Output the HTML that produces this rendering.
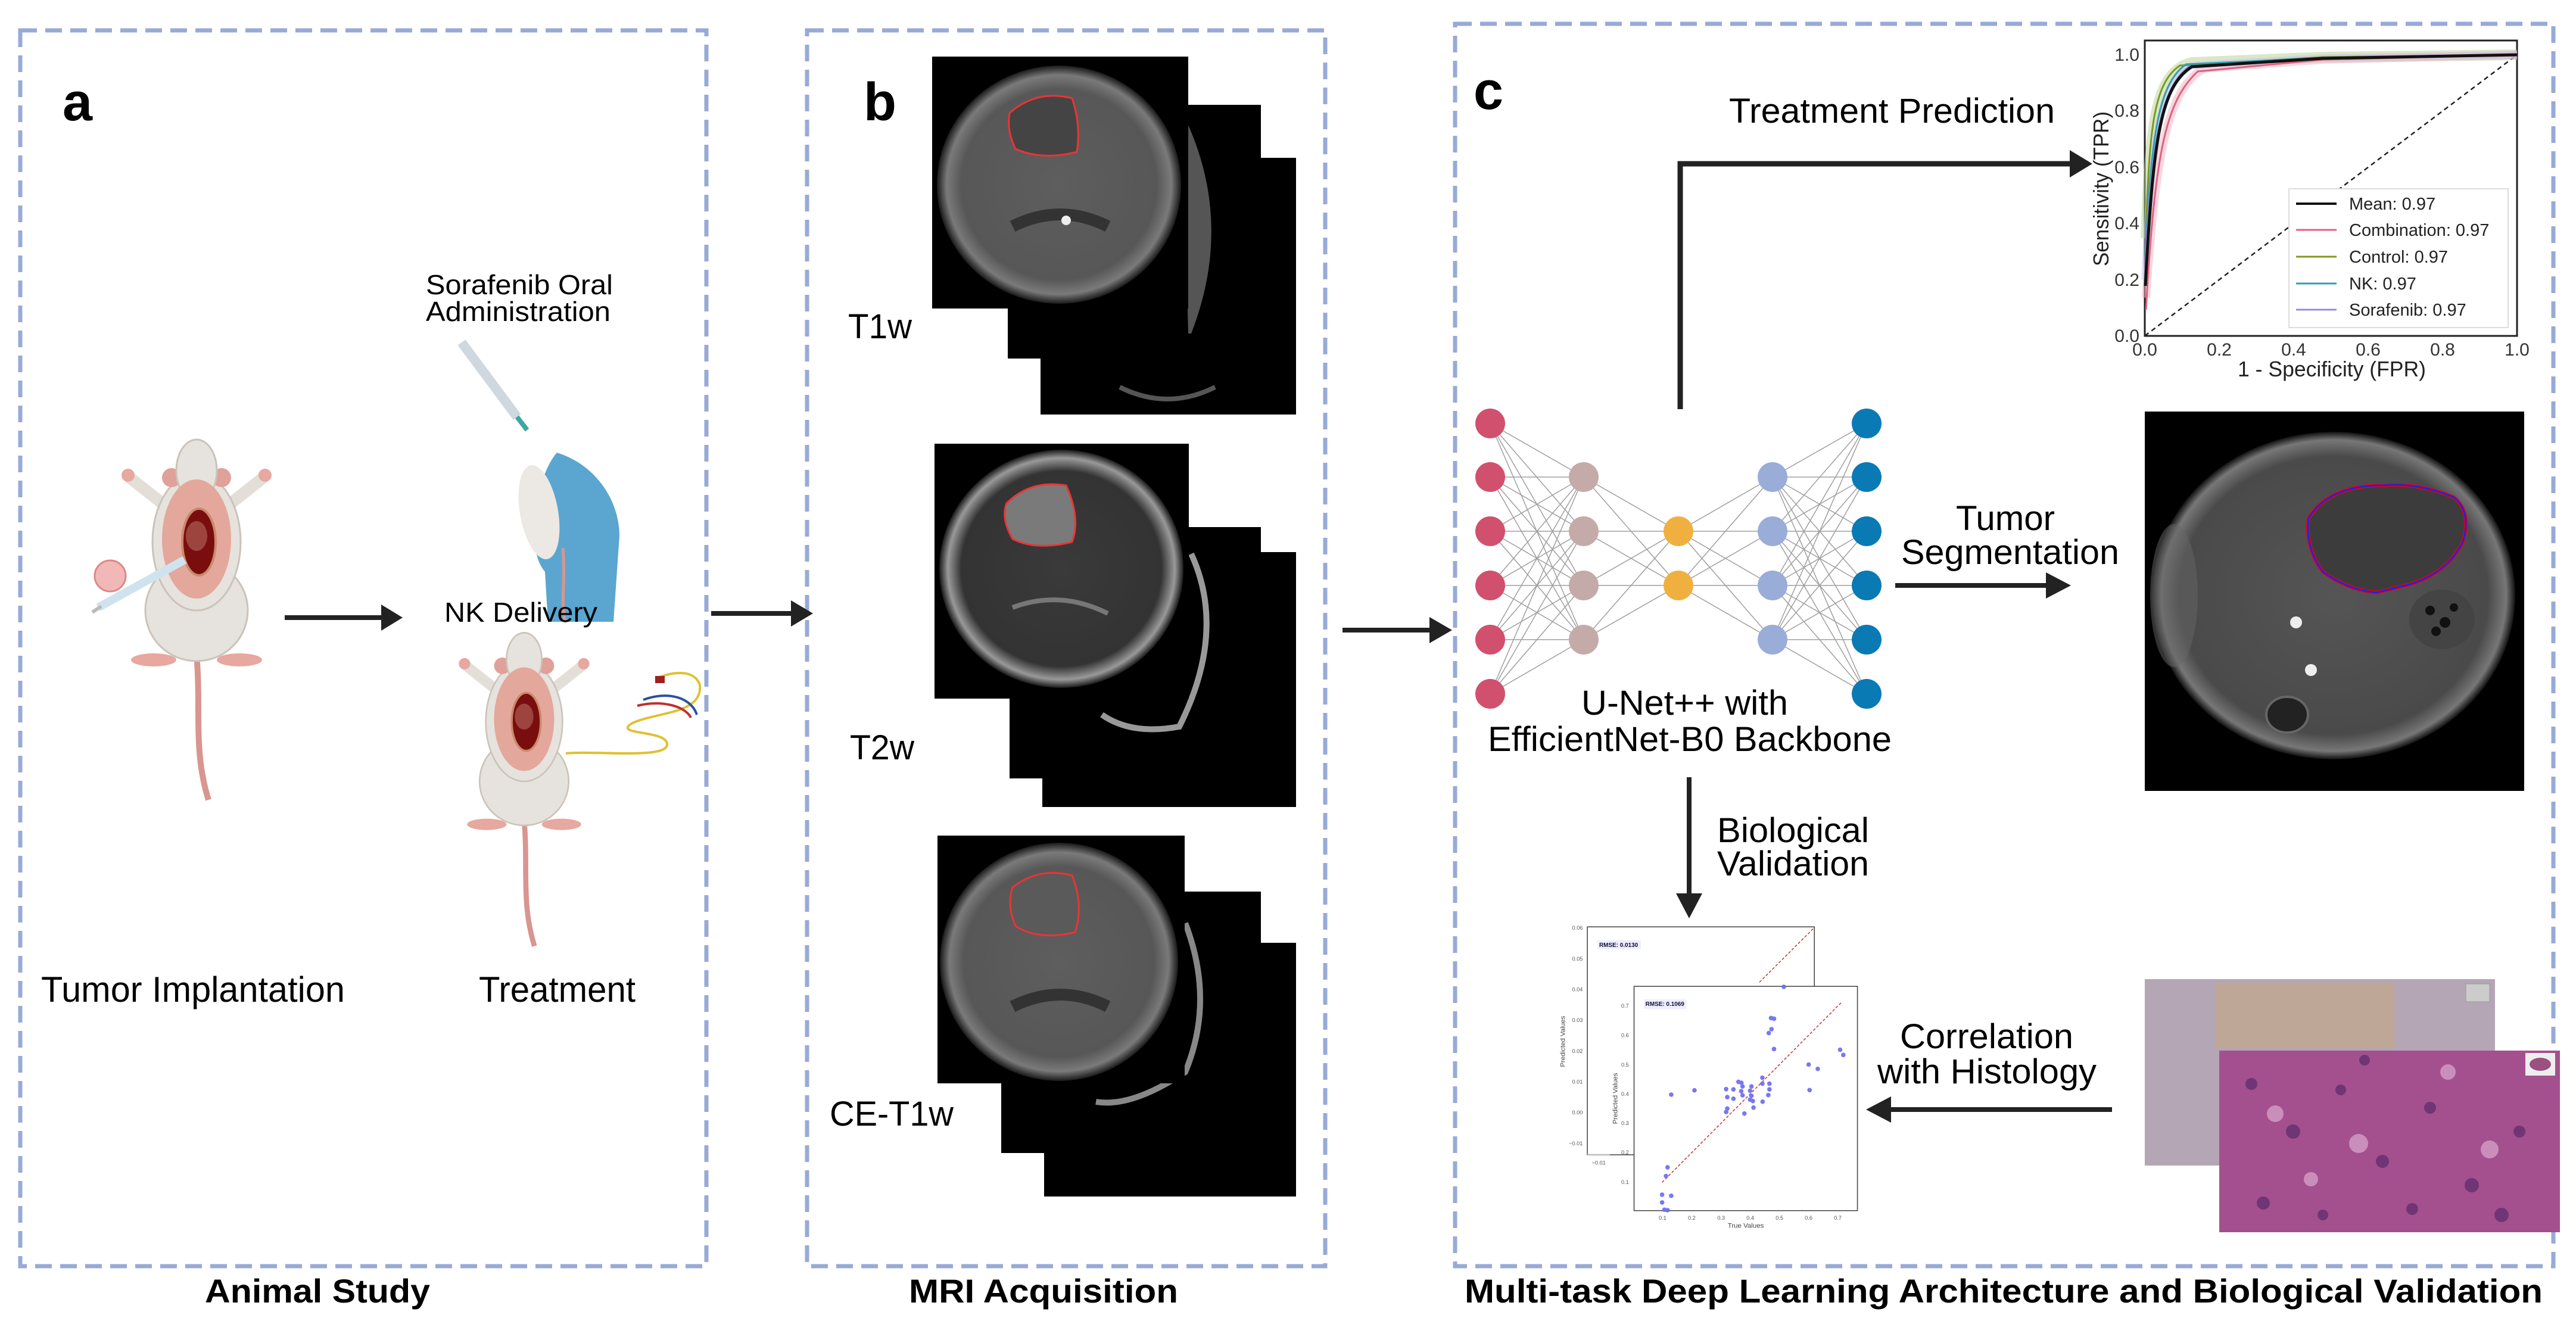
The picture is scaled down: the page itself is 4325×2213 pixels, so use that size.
<!DOCTYPE html>
<html><head><meta charset="utf-8"><style>
html,body{margin:0;padding:0;background:#fff;}
svg{display:block;}
text{font-family:"Liberation Sans",Arial,sans-serif;}
</style></head><body>
<svg width="4325" height="2213" viewBox="0 0 4325 2213" xmlns="http://www.w3.org/2000/svg">
<defs>
<radialGradient id="brain" cx="50%" cy="50%" r="50%">
<stop offset="0" stop-color="#5e5e5e"/><stop offset="0.8" stop-color="#575757"/><stop offset="0.92" stop-color="#7a7a7a"/><stop offset="1" stop-color="#1a1a1a"/>
</radialGradient>
<radialGradient id="brain2" cx="50%" cy="50%" r="50%">
<stop offset="0" stop-color="#3a3a3a"/><stop offset="0.82" stop-color="#333"/><stop offset="0.93" stop-color="#999"/><stop offset="1" stop-color="#1a1a1a"/>
</radialGradient>
<radialGradient id="seg" cx="50%" cy="50%" r="50%">
<stop offset="0" stop-color="#555"/><stop offset="0.85" stop-color="#4a4a4a"/><stop offset="0.95" stop-color="#777"/><stop offset="1" stop-color="#111"/>
</radialGradient>
<g id="mouse">
<path d="M0,360 C8,450 -6,520 20,603" stroke="#d9958f" stroke-width="10" fill="none"/>
<ellipse cx="-72" cy="368" rx="38" ry="11" fill="#e6a89f"/>
<ellipse cx="72" cy="368" rx="38" ry="11" fill="#e6a89f"/>
<line x1="-45" y1="115" x2="-112" y2="62" stroke="#e3ded8" stroke-width="20" stroke-linecap="round"/>
<line x1="45" y1="115" x2="112" y2="62" stroke="#e3ded8" stroke-width="20" stroke-linecap="round"/>
<circle cx="-115" cy="58" r="11" fill="#e6a89f"/><circle cx="115" cy="58" r="11" fill="#e6a89f"/>
<ellipse cx="0" cy="285" rx="86" ry="85" fill="#e6e2dd" stroke="#cbc3ba" stroke-width="3"/>
<ellipse cx="0" cy="170" rx="74" ry="115" fill="#e6e2dd" stroke="#cbc3ba" stroke-width="3"/>
<circle cx="-42" cy="62" r="16" fill="#dfa199"/><circle cx="42" cy="62" r="16" fill="#dfa199"/>
<ellipse cx="0" cy="50" rx="34" ry="52" fill="#e6e2dd" stroke="#cbc3ba" stroke-width="3"/>
<ellipse cx="0" cy="165" rx="58" ry="100" fill="#e3a79c"/>
<ellipse cx="4" cy="170" rx="28" ry="56" fill="#7a0e0e" stroke="#c98a6a" stroke-width="4"/>
<ellipse cx="0" cy="160" rx="18" ry="25" fill="#a5524a" opacity="0.8"/>
</g>
</defs>

<g fill="none" stroke="#98aad6" stroke-width="7" stroke-dasharray="28,14">
<rect x="34" y="51" width="1152" height="2075"/>
<rect x="1355" y="51" width="870" height="2075"/>
<rect x="2443" y="40" width="1844" height="2086"/>
</g>

<text x="105" y="202" font-size="90" font-weight="bold">a</text>
<text x="1450" y="202" font-size="90" font-weight="bold">b</text>
<text x="2474" y="183" font-size="90" font-weight="bold">c</text>

<text x="344" y="2187" font-size="56" font-weight="bold" textLength="378" lengthAdjust="spacingAndGlyphs">Animal Study</text>
<text x="1526" y="2187" font-size="56" font-weight="bold" textLength="452" lengthAdjust="spacingAndGlyphs">MRI Acquisition</text>
<text x="2459" y="2187" font-size="56" font-weight="bold" textLength="1810" lengthAdjust="spacingAndGlyphs">Multi-task Deep Learning Architecture and Biological Validation</text>

<!-- Panel a -->
<use href="#mouse" transform="translate(330,740)"/>
<use href="#mouse" transform="translate(880,1064) scale(0.87)"/>
<circle cx="185" cy="967" r="26" fill="#f2b8b8" stroke="#d88" stroke-width="3"/>
<line x1="165" y1="1020" x2="310" y2="940" stroke="#cfe3ee" stroke-width="14"/>
<line x1="155" y1="1028" x2="170" y2="1018" stroke="#bbb" stroke-width="6"/>
<text x="715" y="494" font-size="46" textLength="314" lengthAdjust="spacingAndGlyphs">Sorafenib Oral</text>
<text x="715" y="539" font-size="46" textLength="310" lengthAdjust="spacingAndGlyphs">Administration</text>
<line x1="775" y1="575" x2="868" y2="700" stroke="#cfd8de" stroke-width="16"/>
<line x1="868" y1="700" x2="885" y2="722" stroke="#3aa8a0" stroke-width="8"/>
<path d="M935,760 C1000,780 1040,840 1040,900 L1030,1044 L920,1044 L915,960 C880,920 900,800 935,760 Z" fill="#5aa6d0"/>
<ellipse cx="905" cy="860" rx="32" ry="80" fill="#ece8e4" transform="rotate(-10 905 860)"/>
<path d="M945,920 C950,980 940,1020 950,1045" stroke="#d9958f" stroke-width="5" fill="none"/>
<text x="746" y="1044" font-size="46" textLength="257" lengthAdjust="spacingAndGlyphs">NK Delivery</text>
<path d="M950,1265 C1000,1260 1120,1275 1120,1250 C1120,1225 1030,1235 1060,1215 C1100,1195 1180,1200 1175,1150 C1165,1120 1120,1130 1100,1140" stroke="#e0c030" stroke-width="4" fill="none"/>
<path d="M1080,1175 C1120,1160 1160,1170 1170,1200" stroke="#2a50a0" stroke-width="4" fill="none"/>
<path d="M1070,1185 C1110,1175 1150,1185 1160,1205" stroke="#c03030" stroke-width="4" fill="none"/>
<rect x="1100" y="1135" width="16" height="12" fill="#a02020"/>
<line x1="478" y1="1037" x2="640" y2="1037" stroke="#222" stroke-width="8"/>
<polygon points="640,1015 676,1037 640,1059" fill="#222"/>
<text x="69" y="1682" font-size="60" textLength="510" lengthAdjust="spacingAndGlyphs">Tumor Implantation</text>
<text x="804" y="1682" font-size="60" textLength="263" lengthAdjust="spacingAndGlyphs">Treatment</text>

<line x1="1194" y1="1030" x2="1330" y2="1030" stroke="#222" stroke-width="8"/>
<polygon points="1328,1008 1365,1030 1328,1052" fill="#222"/>

<!-- T1w -->
<rect x="1747" y="265" width="429" height="431" fill="#000"/>
<path d="M1880,650 Q1960,690 2040,650" stroke="#555" stroke-width="8" fill="none"/>
<rect x="1692" y="176" width="425" height="426" fill="#000"/>
<path d="M1995,210 Q2070,380 2000,560 L1995,560 Q1990,380 1995,210Z" fill="#555"/>
<rect x="1565" y="95" width="430" height="423" fill="#000"/>
<ellipse cx="1778" cy="310" rx="205" ry="200" fill="url(#brain)"/>
<path d="M1695,190 Q1740,150 1800,165 Q1815,210 1808,255 Q1750,270 1705,250 Q1690,220 1695,190Z" fill="#444" stroke="#e33" stroke-width="3"/>
<path d="M1700,380 Q1780,340 1860,380" stroke="#333" stroke-width="20" fill="none"/>
<circle cx="1790" cy="370" r="8" fill="#eee"/>
<text x="1424" y="568" font-size="58" textLength="107" lengthAdjust="spacingAndGlyphs">T1w</text>
<!-- T2w -->
<rect x="1750" y="927" width="426" height="428" fill="#000"/>
<rect x="1695" y="885" width="422" height="422" fill="#000"/>
<path d="M2000,930 Q2060,1060 1980,1220 Q1900,1235 1850,1200" stroke="#999" stroke-width="10" fill="none"/>
<rect x="1569" y="745" width="427" height="428" fill="#000"/>
<ellipse cx="1782" cy="955" rx="205" ry="200" fill="url(#brain2)"/>
<path d="M1690,845 Q1730,805 1790,815 Q1815,870 1800,910 Q1740,925 1700,905 Q1680,870 1690,845Z" fill="#7a7a7a" stroke="#e33" stroke-width="3"/>
<path d="M1700,1020 Q1780,990 1860,1030" stroke="#777" stroke-width="8" fill="none"/>
<text x="1427" y="1275" font-size="58" textLength="108" lengthAdjust="spacingAndGlyphs">T2w</text>
<!-- CE-T1w -->
<rect x="1753" y="1583" width="423" height="426" fill="#000"/>
<rect x="1681" y="1497" width="436" height="439" fill="#000"/>
<path d="M1990,1550 Q2040,1680 1990,1800 Q1900,1860 1840,1850" stroke="#888" stroke-width="10" fill="none"/>
<rect x="1574" y="1403" width="415" height="416" fill="#000"/>
<ellipse cx="1778" cy="1615" rx="200" ry="200" fill="url(#brain)"/>
<path d="M1700,1490 Q1745,1455 1800,1470 Q1820,1520 1805,1565 Q1745,1580 1705,1555 Q1690,1520 1700,1490Z" fill="#5a5a5a" stroke="#e33" stroke-width="3"/>
<path d="M1700,1690 Q1780,1650 1860,1690" stroke="#333" stroke-width="20" fill="none"/>
<text x="1393" y="1890" font-size="58" textLength="208" lengthAdjust="spacingAndGlyphs">CE-T1w</text>

<line x1="2254" y1="1058" x2="2405" y2="1058" stroke="#222" stroke-width="8"/>
<polygon points="2400,1036 2438,1058 2400,1080" fill="#222"/>

<!-- Panel c -->
<text x="2903" y="206" font-size="58" textLength="547" lengthAdjust="spacingAndGlyphs">Treatment Prediction</text>
<polyline points="2821,687 2821,275 3480,275" fill="none" stroke="#222" stroke-width="9"/>
<polygon points="3475,252 3513,275 3475,298" fill="#222"/>

<rect x="3601" y="68" width="625" height="496" fill="#fff" stroke="#222" stroke-width="3"/>
<path d="M3601,564 L4226,92" stroke="#222" stroke-width="2.5" stroke-dasharray="8,6" fill="none"/>
<path d="M3603,400 C3610,200 3620,120 3680,105 L3900,96 L4226,92" stroke="#b8d090" stroke-width="18" fill="none" opacity="0.5"/>
<path d="M3603,500 C3620,250 3640,150 3700,115 L3900,100 L4226,92" stroke="#f0b0c0" stroke-width="14" fill="none" opacity="0.5"/>
<path d="M3601,470 C3612,230 3625,140 3680,110 L3900,97 L4226,92" stroke="#c8c0f0" stroke-width="12" fill="none" opacity="0.5"/>
<path d="M3603,520 C3618,260 3635,170 3690,120 L3900,100 L4226,92" stroke="#e06080" stroke-width="3" fill="none"/>
<path d="M3603,400 C3608,220 3615,140 3660,110 L3900,96 L4226,92" stroke="#7a9a20" stroke-width="3" fill="none"/>
<path d="M3602,430 C3612,220 3625,140 3670,108 L3900,97 L4226,92" stroke="#30a0b0" stroke-width="3" fill="none"/>
<path d="M3602,450 C3612,230 3630,145 3675,112 L3900,98 L4226,92" stroke="#9a8ae0" stroke-width="3" fill="none"/>
<path d="M3602,480 C3615,230 3628,145 3680,112 L3900,98 L4226,92" stroke="#111" stroke-width="5" fill="none"/>
<g font-size="30" fill="#333" text-anchor="end">
<text x="3592" y="102">1.0</text><text x="3592" y="196">0.8</text><text x="3592" y="291">0.6</text>
<text x="3592" y="385">0.4</text><text x="3592" y="480">0.2</text><text x="3592" y="574">0.0</text>
</g>
<g font-size="30" fill="#333" text-anchor="middle">
<text x="3601" y="597">0.0</text><text x="3726" y="597">0.2</text><text x="3851" y="597">0.4</text>
<text x="3976" y="597">0.6</text><text x="4101" y="597">0.8</text><text x="4226" y="597">1.0</text>
</g>
<text x="3915" y="632" font-size="36" fill="#222" text-anchor="middle" textLength="316" lengthAdjust="spacingAndGlyphs">1 - Specificity (FPR)</text>
<text transform="translate(3540,317) rotate(-90)" font-size="36" fill="#222" text-anchor="middle" textLength="260" lengthAdjust="spacingAndGlyphs">Sensitivity (TPR)</text>
<rect x="3843" y="317" width="368" height="233" fill="#fff" stroke="#ddd" stroke-width="2"/>
<g stroke-width="4">
<line x1="3855" y1="342" x2="3923" y2="342" stroke="#111"/>
<line x1="3855" y1="386" x2="3923" y2="386" stroke="#e06080" stroke-width="3"/>
<line x1="3855" y1="431" x2="3923" y2="431" stroke="#7a9a20" stroke-width="3"/>
<line x1="3855" y1="476" x2="3923" y2="476" stroke="#30a0b0" stroke-width="3"/>
<line x1="3855" y1="520" x2="3923" y2="520" stroke="#9a8ae0" stroke-width="3"/>
</g>
<g font-size="29" fill="#222">
<text x="3944" y="352">Mean: 0.97</text>
<text x="3944" y="396">Combination: 0.97</text>
<text x="3944" y="441">Control: 0.97</text>
<text x="3944" y="486">NK: 0.97</text>
<text x="3944" y="530">Sorafenib: 0.97</text>
</g>

<g stroke="#888" stroke-width="1.5" opacity="0.8">
<path d="M2502,711 L2659,801 M2502,711 L2659,892 M2502,711 L2659,983 M2502,711 L2659,1074
M2502,801 L2659,801 M2502,801 L2659,892 M2502,801 L2659,983 M2502,801 L2659,1074
M2502,892 L2659,801 M2502,892 L2659,892 M2502,892 L2659,983 M2502,892 L2659,1074
M2502,983 L2659,801 M2502,983 L2659,892 M2502,983 L2659,983 M2502,983 L2659,1074
M2502,1074 L2659,801 M2502,1074 L2659,892 M2502,1074 L2659,983 M2502,1074 L2659,1074
M2502,1165 L2659,801 M2502,1165 L2659,892 M2502,1165 L2659,983 M2502,1165 L2659,1074
M2659,801 L2818,892 M2659,801 L2818,983 M2659,892 L2818,892 M2659,892 L2818,983
M2659,983 L2818,892 M2659,983 L2818,983 M2659,1074 L2818,892 M2659,1074 L2818,983
M2818,892 L2976,801 M2818,892 L2976,892 M2818,892 L2976,983 M2818,892 L2976,1074
M2818,983 L2976,801 M2818,983 L2976,892 M2818,983 L2976,983 M2818,983 L2976,1074
M3134,711 L2976,801 M3134,711 L2976,892 M3134,711 L2976,983 M3134,711 L2976,1074
M3134,801 L2976,801 M3134,801 L2976,892 M3134,801 L2976,983 M3134,801 L2976,1074
M3134,892 L2976,801 M3134,892 L2976,892 M3134,892 L2976,983 M3134,892 L2976,1074
M3134,983 L2976,801 M3134,983 L2976,892 M3134,983 L2976,983 M3134,983 L2976,1074
M3134,1074 L2976,801 M3134,1074 L2976,892 M3134,1074 L2976,983 M3134,1074 L2976,1074
M3134,1165 L2976,801 M3134,1165 L2976,892 M3134,1165 L2976,983 M3134,1165 L2976,1074"/>
</g>
<g fill="#d1506e">
<circle cx="2502" cy="711" r="25"/><circle cx="2502" cy="801" r="25"/><circle cx="2502" cy="892" r="25"/>
<circle cx="2502" cy="983" r="25"/><circle cx="2502" cy="1074" r="25"/><circle cx="2502" cy="1165" r="25"/>
</g>
<g fill="#c4aaa8">
<circle cx="2659" cy="801" r="25"/><circle cx="2659" cy="892" r="25"/><circle cx="2659" cy="983" r="25"/><circle cx="2659" cy="1074" r="25"/>
</g>
<g fill="#f0b040"><circle cx="2818" cy="892" r="25"/><circle cx="2818" cy="983" r="25"/></g>
<g fill="#9aadd8">
<circle cx="2976" cy="801" r="25"/><circle cx="2976" cy="892" r="25"/><circle cx="2976" cy="983" r="25"/><circle cx="2976" cy="1074" r="25"/>
</g>
<g fill="#0a7ab5">
<circle cx="3134" cy="711" r="25"/><circle cx="3134" cy="801" r="25"/><circle cx="3134" cy="892" r="25"/>
<circle cx="3134" cy="983" r="25"/><circle cx="3134" cy="1074" r="25"/><circle cx="3134" cy="1165" r="25"/>
</g>
<text x="2655" y="1200" font-size="58" textLength="347" lengthAdjust="spacingAndGlyphs">U-Net++ with</text>
<text x="2498" y="1261" font-size="58" textLength="678" lengthAdjust="spacingAndGlyphs">EfficientNet-B0 Backbone</text>

<line x1="3182" y1="983" x2="3440" y2="983" stroke="#222" stroke-width="8"/>
<polygon points="3435,961 3477,983 3435,1005" fill="#222"/>
<text x="3284" y="890" font-size="58" textLength="166" lengthAdjust="spacingAndGlyphs">Tumor</text>
<text x="3192" y="947" font-size="58" textLength="366" lengthAdjust="spacingAndGlyphs">Segmentation</text>
<rect x="3601" y="691" width="637" height="637" fill="#000"/>
<ellipse cx="3918" cy="1000" rx="305" ry="275" fill="url(#seg)"/>
<ellipse cx="3650" cy="1000" rx="40" ry="120" fill="#666" opacity="0.5"/>
<path d="M3876,870 Q3910,815 4000,815 Q4060,810 4120,835 Q4150,860 4135,910 Q4110,960 4050,980 L3990,995 Q3940,990 3900,960 Q3870,920 3876,870Z" fill="#3c3c3c" stroke="#e00" stroke-width="6"/>
<path d="M3876,870 Q3910,815 4000,815 Q4060,810 4120,835 Q4150,860 4135,910 Q4110,960 4050,980 L3990,995 Q3940,990 3900,960 Q3870,920 3876,870Z" fill="none" stroke="#22d" stroke-width="3"/>
<ellipse cx="4100" cy="1040" rx="55" ry="50" fill="#444"/>
<g fill="#111"><circle cx="4080" cy="1025" r="8"/><circle cx="4105" cy="1045" r="9"/><circle cx="4120" cy="1020" r="7"/><circle cx="4090" cy="1060" r="8"/></g>
<circle cx="3855" cy="1045" r="10" fill="#eee"/><circle cx="3880" cy="1125" r="10" fill="#eee"/>
<ellipse cx="3840" cy="1200" rx="35" ry="30" fill="#222" stroke="#666" stroke-width="4"/>

<line x1="2836" y1="1305" x2="2836" y2="1505" stroke="#222" stroke-width="8"/>
<polygon points="2814,1500 2836,1542 2858,1500" fill="#222"/>
<text x="2883" y="1414" font-size="58" textLength="255" lengthAdjust="spacingAndGlyphs">Biological</text>
<text x="2883" y="1470" font-size="58" textLength="255" lengthAdjust="spacingAndGlyphs">Validation</text>

<g transform="translate(2600,1500) scale(0.3827)">
<rect x="170" y="147" width="996" height="1000" fill="#fff" stroke="#444" stroke-width="4"/>
<line x1="170" y1="1147" x2="268" y2="1147" stroke="#bbb" stroke-width="6"/>
<line x1="925" y1="390" x2="1166" y2="150" stroke="#c33" stroke-width="4" stroke-dasharray="12,8"/>
<rect x="215" y="205" width="190" height="40" fill="#eef"/>
<text x="222" y="235" font-size="26" font-weight="bold" fill="#113">RMSE: 0.0130</text>
<g font-size="24" fill="#555" text-anchor="end">
<text x="150" y="160">0.06</text><text x="150" y="295">0.05</text><text x="150" y="430">0.04</text><text x="150" y="565">0.03</text>
<text x="150" y="700">0.02</text><text x="150" y="835">0.01</text><text x="150" y="970">0.00</text><text x="150" y="1105">−0.01</text>
</g>
<text x="220" y="1190" font-size="24" fill="#555" text-anchor="middle">−0.01</text>
<text transform="translate(72,650) rotate(-90)" font-size="30" fill="#444" text-anchor="middle">Predicted Values</text>
<rect x="375" y="408" width="980" height="984" fill="#fff" stroke="#444" stroke-width="4"/>
<line x1="498" y1="1268" x2="1288" y2="475" stroke="#c33" stroke-width="4" stroke-dasharray="12,8"/>
<rect x="418" y="465" width="187" height="42" fill="#eef"/>
<text x="425" y="494" font-size="26" font-weight="bold" fill="#113">RMSE: 0.1069</text>
<g font-size="24" fill="#555" text-anchor="end">
<text x="352" y="502">0.7</text><text x="352" y="631">0.6</text><text x="352" y="760">0.5</text><text x="352" y="888">0.4</text>
<text x="352" y="1017">0.3</text><text x="352" y="1145">0.2</text><text x="352" y="1275">0.1</text>
</g>
<g font-size="24" fill="#555" text-anchor="middle">
<text x="500" y="1432">0.1</text><text x="628" y="1432">0.2</text><text x="757" y="1432">0.3</text><text x="885" y="1432">0.4</text>
<text x="1013" y="1432">0.5</text><text x="1141" y="1432">0.6</text><text x="1269" y="1432">0.7</text>
</g>
<text x="865" y="1467" font-size="30" fill="#444" text-anchor="middle">True Values</text>
<text transform="translate(302,900) rotate(-90)" font-size="30" fill="#444" text-anchor="middle">Predicted Values</text>
<g fill="#6a6af0" opacity="0.9">
<circle cx="976" cy="547" r="10"/><circle cx="989" cy="550" r="10"/><circle cx="978" cy="596" r="10"/><circle cx="966" cy="613" r="10"/>
<circle cx="989" cy="683" r="10"/><circle cx="1279" cy="686" r="10"/><circle cx="1293" cy="709" r="10"/><circle cx="1141" cy="751" r="10"/>
<circle cx="1181" cy="770" r="10"/><circle cx="1145" cy="863" r="10"/><circle cx="938" cy="809" r="10"/><circle cx="938" cy="835" r="10"/>
<circle cx="969" cy="835" r="10"/><circle cx="969" cy="860" r="10"/><circle cx="964" cy="885" r="10"/><circle cx="939" cy="914" r="10"/>
<circle cx="833" cy="827" r="10"/><circle cx="846" cy="831" r="10"/><circle cx="851" cy="847" r="10"/><circle cx="845" cy="868" r="10"/>
<circle cx="851" cy="886" r="10"/><circle cx="890" cy="847" r="10"/><circle cx="884" cy="866" r="10"/><circle cx="890" cy="888" r="10"/>
<circle cx="884" cy="905" r="10"/><circle cx="896" cy="911" r="10"/><circle cx="899" cy="940" r="10"/><circle cx="859" cy="966" r="10"/>
<circle cx="779" cy="859" r="10"/><circle cx="811" cy="860" r="10"/><circle cx="784" cy="894" r="10"/><circle cx="811" cy="901" r="10"/>
<circle cx="784" cy="944" r="10"/><circle cx="779" cy="959" r="10"/><circle cx="640" cy="864" r="10"/><circle cx="538" cy="883" r="10"/>
<circle cx="522" cy="1202" r="10"/><circle cx="515" cy="1240" r="10"/><circle cx="498" cy="1322" r="10"/><circle cx="538" cy="1327" r="10"/>
<circle cx="498" cy="1356" r="10"/><circle cx="508" cy="1388" r="10"/><circle cx="522" cy="1390" r="10"/><circle cx="1032" cy="410" r="10"/>
</g>
</g>

<line x1="3546" y1="1863" x2="3170" y2="1863" stroke="#222" stroke-width="8"/>
<polygon points="3175,1841 3133,1863 3175,1885" fill="#222"/>
<text x="3190" y="1760" font-size="58" textLength="291" lengthAdjust="spacingAndGlyphs">Correlation</text>
<text x="3152" y="1819" font-size="58" textLength="368" lengthAdjust="spacingAndGlyphs">with Histology</text>
<rect x="3601" y="1644" width="588" height="313" fill="#b4a6b4"/>
<rect x="3720" y="1650" width="300" height="110" fill="#c8a878" opacity="0.5"/>
<rect x="4140" y="1652" width="40" height="30" fill="#ccc" stroke="#999"/>
<rect x="3726" y="1764" width="572" height="305" fill="#a4508e"/>
<g fill="#5a2a6a" opacity="0.7">
<circle cx="3780" cy="1820" r="10"/><circle cx="3850" cy="1900" r="12"/><circle cx="3930" cy="1830" r="9"/><circle cx="4000" cy="1950" r="11"/>
<circle cx="4080" cy="1860" r="10"/><circle cx="4150" cy="1990" r="12"/><circle cx="4230" cy="1900" r="10"/><circle cx="3800" cy="2020" r="11"/>
<circle cx="3900" cy="2040" r="9"/><circle cx="4050" cy="2030" r="10"/><circle cx="4200" cy="2040" r="12"/><circle cx="3970" cy="1780" r="9"/>
</g>
<g fill="#e4b8d8" opacity="0.6">
<circle cx="3820" cy="1870" r="14"/><circle cx="3960" cy="1920" r="16"/><circle cx="4110" cy="1800" r="13"/><circle cx="4180" cy="1930" r="15"/><circle cx="3880" cy="1980" r="12"/>
</g>
<rect x="4240" y="1768" width="50" height="38" fill="#eee"/>
<ellipse cx="4265" cy="1787" rx="18" ry="11" fill="#9a5080"/>
</svg>
</body></html>
